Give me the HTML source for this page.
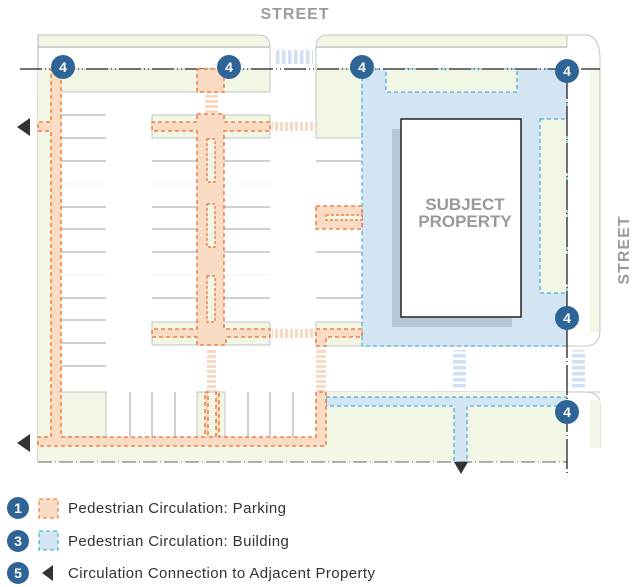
<!DOCTYPE html>
<html><head><meta charset="utf-8"><style>
html,body{margin:0;padding:0;background:#fff;width:632px;height:587px;overflow:hidden}
svg{display:block}
text{font-family:"Liberation Sans",sans-serif}
</style></head><body>
<svg width="632" height="587" viewBox="0 0 632 587" xmlns="http://www.w3.org/2000/svg">
<defs>
<pattern id="oh" width="5" height="10" patternUnits="userSpaceOnUse"><rect width="3" height="10" fill="#f9d9c3"/></pattern>
<pattern id="ov" width="10" height="5" patternUnits="userSpaceOnUse"><rect width="10" height="3" fill="#f9d9c3"/></pattern>
<pattern id="bh" width="6" height="10" patternUnits="userSpaceOnUse"><rect width="3.5" height="10" fill="#cfe1f2"/></pattern>
<pattern id="bv" width="10" height="6" patternUnits="userSpaceOnUse"><rect width="10" height="3.5" fill="#cfe1f2"/></pattern>
</defs>
<text x="295" y="19" font-size="16" font-weight="bold" fill="#9b9b9b" text-anchor="middle" letter-spacing="1">STREET</text>
<text transform="translate(629,250) rotate(-90)" font-size="16" font-weight="bold" fill="#9b9b9b" text-anchor="middle" letter-spacing="1">STREET</text>

<path d="M38,47 V35 H258 Q270,35 270,47 Z" fill="#f2f6e4" stroke="#c4c4c4"/>
<line x1="38" y1="47" x2="270" y2="47" stroke="#d0d0d0" stroke-width="2"/>
<line x1="38" y1="35" x2="38" y2="462" stroke="#b0b0b0"/>
<line x1="270" y1="47" x2="270" y2="92" stroke="#c4c4c4"/>
<rect x="38" y="69" width="232" height="23" fill="#f2f6e4" stroke="#c4c4c4"/>
<rect x="38" y="69" width="22" height="393" fill="#f2f6e4"/>
<rect x="38" y="437" width="288" height="25" fill="#f2f6e4"/>
<rect x="60" y="392" width="46" height="45" fill="#f2f6e4" stroke="#c4c4c4"/>
<rect x="197" y="392" width="28" height="45" fill="#f2f6e4" stroke="#c4c4c4"/>
<g stroke="#b5b5b5" stroke-width="1.3">
<path d="M60,115H106M60,138H106M60,161H106M60,207H106M60,229H106M60,252H106M60,298H106M60,320H106M60,343H106M60,366H106"/>
<path d="M152,161H270M152,207H270M152,229H270M152,252H270M152,298H270"/>
<path d="M316,161H362M316,252H362M316,298H362"/>
<path d="M130,392V437M152,392V437M175,392V437M248,392V437M270,392V437M293,392V437"/>
</g>
<g stroke="#f0f0f0"><path d="M60,184H106M60,275H106M152,184H270M152,275H270"/></g>
<rect x="152" y="115" width="118" height="23" fill="#f2f6e4" stroke="#c4c4c4"/>
<rect x="152" y="322" width="118" height="23" fill="#f2f6e4" stroke="#c4c4c4"/>

<path d="M316,69 V47 Q316,35 328,35 H567 V47 H316" fill="#f2f6e4" stroke="#c4c4c4"/>
<line x1="316" y1="47" x2="567" y2="47" stroke="#d0d0d0" stroke-width="2"/>
<path d="M567,35 H585 Q600,35 600,60 V70" fill="none" stroke="#c4c4c4"/>
<rect x="316" y="69" width="46" height="69" fill="#f2f6e4" stroke="#c4c4c4"/>
<rect x="316" y="322" width="46" height="24" fill="#f2f6e4" stroke="#c4c4c4"/>
<rect x="590" y="70" width="10" height="262" fill="#f2f6e4"/>
<path d="M600,70 V330 Q600,346 585,346 H316" fill="none" stroke="#c4c4c4"/>
<path d="M362,69 H567 V346 H362 Z" fill="#d3e4f3" stroke="#2a9fd6" stroke-dasharray="4,3"/>
<rect x="386" y="69" width="131" height="23" fill="#f2f6e4" stroke="#2a9fd6" stroke-dasharray="4,3"/>
<rect x="540" y="119" width="27" height="174" fill="#f2f6e4" stroke="#2a9fd6" stroke-dasharray="4,3"/>
<rect x="392" y="129" width="120" height="198" fill="#b6c8d3"/>
<rect x="401" y="119" width="120" height="198" fill="#fff" stroke="#222" stroke-width="1.5"/>
<text x="465" y="210" font-size="17" font-weight="bold" fill="#999" text-anchor="middle">SUBJECT</text>
<text x="465" y="227" font-size="17" font-weight="bold" fill="#999" text-anchor="middle">PROPERTY</text>

<path d="M316,392 H600" stroke="#c4c4c4" fill="none"/>
<rect x="326" y="392" width="241" height="70" fill="#f2f6e4"/>
<path d="M326,397 H567 V406 H467 V462 H454 V406 H326 Z" fill="#d3e4f3" stroke="#2a9fd6" stroke-dasharray="4,3"/>
<path d="M585,392 Q600,392 600,405 V448" fill="none" stroke="#c4c4c4"/>
<rect x="590" y="400" width="10" height="48" fill="#f2f6e4"/>
<line x1="38" y1="462" x2="567" y2="462" stroke="#666" stroke-dasharray="14,3,1,3"/>
<path d="M454,462 L468,462 L461,474 Z" fill="#333"/>

<line x1="20" y1="69" x2="600" y2="69" stroke="#222" stroke-width="1.3" stroke-dasharray="22,3,1,3,1,3"/>
<line x1="567" y1="69" x2="567" y2="475" stroke="#222" stroke-width="1.3" stroke-dasharray="30,3,1,3"/>

<rect x="275" y="50" width="38" height="14" fill="url(#bh)"/>
<rect x="272" y="122" width="44" height="9" fill="url(#oh)"/>
<rect x="272" y="329" width="44" height="9" fill="url(#oh)"/>
<rect x="205" y="95" width="13" height="18" fill="url(#ov)"/>
<rect x="207" y="348" width="9" height="44" fill="url(#ov)"/>
<rect x="316" y="348" width="10" height="44" fill="url(#ov)"/>
<rect x="453" y="350" width="13" height="40" fill="url(#bv)"/>
<rect x="572" y="350" width="13" height="40" fill="url(#bv)"/>

<g fill="#fadbc4" stroke="#ef6a2a" stroke-dasharray="4,3" stroke-width="1.3">
<rect x="197" y="69" width="27" height="23"/>
<path d="M51,69 H61 V437 H205 V392 H208 V437 H216 V392 H219 V437 H316 V392 H326 V446 H38 V437 H51 V131 H38 V122 H51 Z"/>
<path d="M197,114 H224 V122 H270 V131 H224 V329 H270 V337 H226 V345 H197 V337 H152 V329 H197 V131 H152 V122 H197 Z"/>
<rect x="316" y="206" width="46" height="23"/>
<path d="M316,329 H362 V337 H326 V346 H316 Z"/>
</g>
<g fill="#f2f6e4" stroke="#ef6a2a" stroke-dasharray="3,2" stroke-width="1.2">
<rect x="207" y="139" width="8" height="43"/>
<rect x="207" y="204" width="8" height="43"/>
<rect x="207" y="276" width="8" height="46"/>
<rect x="326" y="215" width="36" height="5"/>
</g>
<path d="M17,127 L30,118 V136 Z" fill="#333"/>
<path d="M17,443 L30,434 V452 Z" fill="#333"/>

<g fill="#2f6596"><circle cx="63" cy="67" r="12"/><circle cx="229" cy="67" r="12"/><circle cx="362" cy="67" r="12"/><circle cx="567" cy="71" r="12"/><circle cx="567" cy="318" r="12"/><circle cx="567" cy="412" r="12"/></g>
<g fill="#fff" font-size="14" font-weight="bold" text-anchor="middle">
<text x="63" y="72">4</text><text x="229" y="72">4</text><text x="362" y="72">4</text><text x="567" y="76">4</text><text x="567" y="323">4</text><text x="567" y="417">4</text></g>

<g fill="#2f6596"><circle cx="18" cy="508" r="11"/><circle cx="18" cy="541" r="11"/><circle cx="18" cy="573" r="11"/></g>
<g fill="#fff" font-size="14" font-weight="bold" text-anchor="middle"><text x="18" y="513">1</text><text x="18" y="546">3</text><text x="18" y="578">5</text></g>
<rect x="39" y="499" width="19" height="19" fill="#fadbc4" stroke="#ef6a2a" stroke-dasharray="4,3"/>
<rect x="39" y="531" width="19" height="19" fill="#d3e4f3" stroke="#2a9fd6" stroke-dasharray="4,3"/>
<path d="M42,573 L53,565 V581 Z" fill="#333"/>
<g fill="#333" font-size="15" letter-spacing="0.4"><text x="68" y="513">Pedestrian Circulation: Parking</text><text x="68" y="546">Pedestrian Circulation: Building</text><text x="68" y="578">Circulation Connection to Adjacent Property</text></g>
</svg>
</body></html>
